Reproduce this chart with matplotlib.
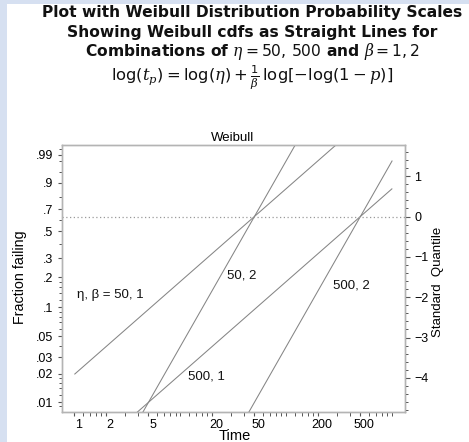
import numpy as np
import matplotlib
matplotlib.use("Agg")
import matplotlib.pyplot as plt
from matplotlib.patches import Rectangle
from matplotlib.transforms import ScaledTranslation
from matplotlib.ticker import NullFormatter

plt.rcParams['mathtext.fontset'] = 'custom'
plt.rcParams['mathtext.rm'] = 'DejaVu Sans'
plt.rcParams['mathtext.sf'] = 'DejaVu Sans'
plt.rcParams['mathtext.it'] = 'DejaVu Serif:italic'
plt.rcParams['font.family'] = ['Liberation Sans', 'DejaVu Sans']

# ---------------- data ----------------
etas = [50, 500]
betas = [1, 2]
time_span = [1, 1000]

curve_labels = ["η, β = 50, 1", "50, 2", "500, 1", "500, 2"]
curve_label_t = [1.065, 27.3, 11.9, 275]
curve_label_q = [-1.956, -1.463, -3.966, -1.717]

p_major = [.01, .02, .03, .05, .1, .2, .3, .5, .7, .9, .99]
p_labels = [".01", ".02", ".03", ".05", ".1", ".2", ".3", ".5", ".7", ".9", ".99"]
p_minor = [.009, .012, .014, .016, .018, .04, .06, .07, .08, .09,
           .12, .14, .16, .18, .4, .6, .8, .95, .98, .995]

t_major = [1, 2, 5, 20, 50, 200, 500]
t_labels = ["1", "2", "5", "20", "50", "200", "500"]
t_minor = [1.2, 1.4, 1.6, 1.8, 3, 4, 6, 7, 8, 9, 10,
           12, 14, 16, 18, 30, 40, 60, 70, 80, 90, 100,
           120, 140, 160, 180, 300, 400, 600, 700, 800, 900, 1000]

q_major = [-4, -3, -2, -1, 0, 1]
q_labels = ["\u22124", "\u22123", "\u22122", "\u22121", "0", "1"]
q_minor = [-4.8, -4.6, -4.4, -4.2, -3.8, -3.6, -3.4, -3.2, -2.8, -2.6, -2.4, -2.2,
           -1.8, -1.6, -1.4, -1.2, -0.8, -0.6, -0.4, -0.2, 0.2, 0.4, 0.6, 0.8,
           1.2, 1.4, 1.6]

q_lim = (-4.845, 1.772)
t_lim = (10 ** -0.12, 10 ** 3.12)


def fwd(p):
    p = np.asarray(p, float)
    with np.errstate(all='ignore'):
        return np.log(-np.log1p(-p))


def inv(q):
    q = np.asarray(q, float)
    with np.errstate(all='ignore'):
        return -np.expm1(-np.exp(q))


W, H = 469, 442
fig = plt.figure(figsize=(W / 100, H / 100), dpi=100, facecolor='#d6e0f1')
fig.patches.append(Rectangle((7 / W, 0), 1, 1 - 4 / H, transform=fig.transFigure,
                             facecolor='white', edgecolor='none', zorder=-10))

L, R, T, B = 61.7, 405, 145, 412
ax = fig.add_axes([L / W, 1 - B / H, (R - L) / W, (B - T) / H])
ax.set_facecolor('white')
ax.set_xscale('log')
ax.set_yscale('function', functions=(fwd, inv))
ax.set_xlim(*t_lim)
ax.set_ylim(float(inv(q_lim[0])), float(inv(q_lim[1])))

ax.set_xticks(t_major, t_labels)
ax.set_xticks(t_minor, minor=True)
ax.xaxis.set_minor_formatter(NullFormatter())
ax.set_yticks(p_major, p_labels)
ax.set_yticks(p_minor, minor=True)
ax.yaxis.set_minor_formatter(NullFormatter())

ax2 = ax.twinx()
ax2.set_ylim(*q_lim)
ax2.set_yticks(q_major, q_labels)
ax2.set_yticks(q_minor, minor=True)

tick_col = '#555555'
spine_col = '#b4b4b4'
for a in (ax, ax2):
    for s in a.spines.values():
        s.set_color(spine_col)
        s.set_linewidth(1.0)
ax.tick_params(axis='both', which='major', direction='out', length=3.0, width=0.8,
               color=tick_col, labelsize=9, pad=3)
ax.tick_params(axis='both', which='minor', direction='out', length=2.0, width=0.7,
               color=tick_col)
ax.tick_params(axis='x', which='both', length=2.6)
ax.tick_params(axis='x', which='major', pad=2.2)
ax2.tick_params(axis='y', which='major', direction='out', length=3.6, width=0.8,
                color=tick_col, labelsize=9, pad=3)
ax2.tick_params(axis='y', which='minor', direction='out', length=2.2, width=0.7,
                color=tick_col)

off = ScaledTranslation(4 / 100, 0, fig.dpi_scale_trans)
for lab in ax.get_xticklabels():
    lab.set_transform(lab.get_transform() + off)

# Weibull cdf lines: standard quantile = beta*(log t - log eta)
for eta in etas:
    for beta in betas:
        q = [beta * (np.log(t) - np.log(eta)) for t in time_span]
        ax2.plot(time_span, q, color='#858585', lw=0.75, solid_capstyle='butt')

ax2.axhline(0, color='#9a9a9a', lw=0.9, linestyle=(0, (1, 2)))

for txt, tt, qq in zip(curve_labels, curve_label_t, curve_label_q):
    ax2.text(tt, qq, txt, ha='left', va='center', fontsize=9.5, color='#111111')

# labels
fig.text(233 / W, 1 - 138.3 / H, "Weibull", ha='center', va='center', fontsize=9.5)
fig.text(20 / W, 1 - 277 / H, "Fraction failing", rotation=90, ha='center',
         va='center', fontsize=10.3)
fig.text(437.5 / W, 1 - 281.7 / H, "Standard  Quantile", rotation=90, ha='center',
         va='center', fontsize=9.5)
fig.text(235 / W, 1 - 436 / H, "Time", ha='center', va='center', fontsize=10.5)

# title
tfont = dict(family='DejaVu Sans', fontweight='bold', fontsize=11.2, color='#111111')
cx = 252 / W
fig.text(cx, 1 - 17.5 / H, "Plot with Weibull Distribution Probability Scales",
         ha='center', va='baseline', **tfont)
fig.text(cx, 1 - 37 / H, "Showing Weibull cdfs as Straight Lines for",
         ha='center', va='baseline', **tfont)
fig.text(cx, 1 - 56 / H,
         r"Combinations of $\eta = 50,\,500$ and $\beta = 1,2$",
         ha='center', va='baseline', **tfont)
fig.text(cx, 1 - 80 / H,
         r"$\log(t_p) = \log(\eta) + \frac{1}{\beta}\,\log[-\log(1 - p)]$",
         ha='center', va='baseline', fontsize=11.8, color='#111111')

fig.savefig("out.png", dpi=100, facecolor=fig.get_facecolor())
